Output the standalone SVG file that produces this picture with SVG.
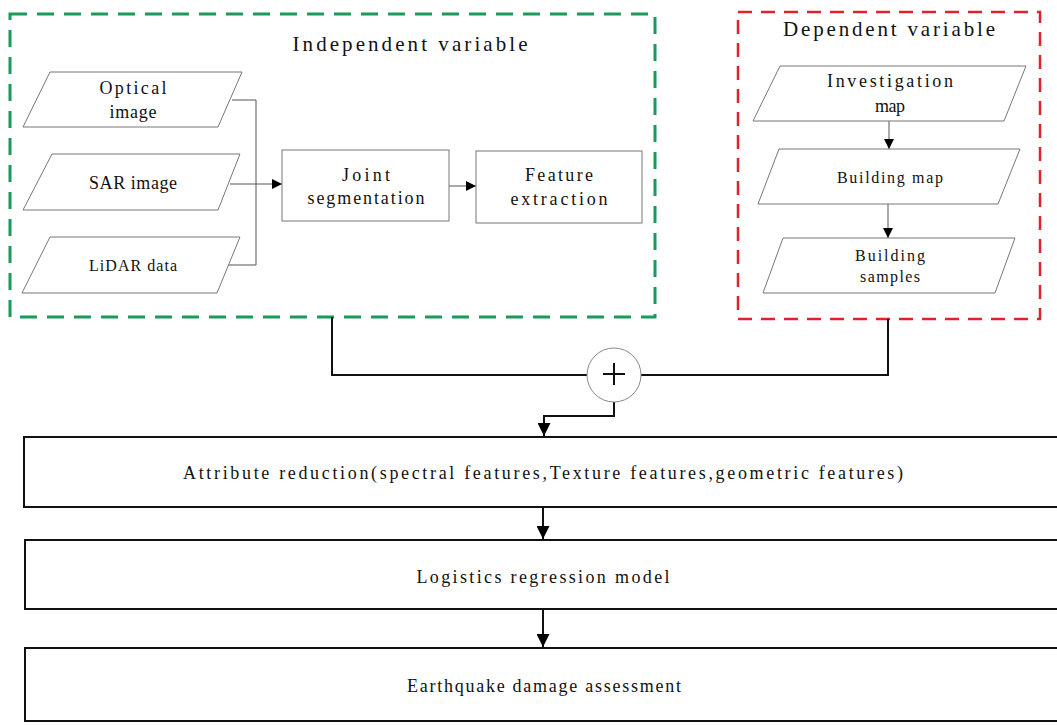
<svg xmlns="http://www.w3.org/2000/svg" width="1057" height="725" viewBox="0 0 1057 725">
<defs>
<style>
text{font-family:"Liberation Serif","DejaVu Serif",serif;fill:#111;text-anchor:middle}
.t{font-size:18px}
.h{font-size:21px}
.s{font-size:16px}
.para{fill:#fff;stroke:#777;stroke-width:1}
.box{fill:#fff;stroke:#777;stroke-width:1}
.big{fill:#fff;stroke:#111;stroke-width:2}
.thin{fill:none;stroke:#555;stroke-width:1}
.thick{fill:none;stroke:#111;stroke-width:2}
</style>
<marker id="ah" viewBox="0 0 10 10" refX="10" refY="5" markerWidth="10" markerHeight="10" markerUnits="userSpaceOnUse" orient="auto">
<path d="M0,0 L10,5 L0,10 Z" fill="#000"/>
</marker>
<marker id="ah2" viewBox="0 0 10 10" refX="10" refY="5" markerWidth="13" markerHeight="13" markerUnits="userSpaceOnUse" orient="auto">
<path d="M0,0 L10,5 L0,10 Z" fill="#000"/>
</marker>
</defs>
<rect width="1057" height="725" fill="#fff"/>

<g id="independent-group">
<rect x="10" y="14" width="645" height="303" fill="none" stroke="#1a9a5c" stroke-width="3" stroke-dasharray="17 10"/>
<text class="h" x="410" y="51" textLength="235" lengthAdjust="spacing">Independent variable</text>
</g>
<g id="dependent-group">
<rect x="738" y="12" width="302" height="307" fill="none" stroke="#e0232b" stroke-width="2.5" stroke-dasharray="14 9"/>
<text class="h" x="889" y="36" textLength="212" lengthAdjust="spacing">Dependent variable</text>
</g>

<g id="connectors">
<polyline class="thin" points="232,100 256,100 256,265 228,265"/>
<line class="thin" x1="230" y1="184" x2="282" y2="184" marker-end="url(#ah)"/>
<line class="thin" x1="449" y1="186" x2="476" y2="186" marker-end="url(#ah)"/>
<line class="thin" x1="889" y1="121" x2="889" y2="149" marker-end="url(#ah)"/>
<line class="thin" x1="888" y1="204" x2="888" y2="238" marker-end="url(#ah)"/>
<polyline class="thick" points="332,317 332,375 587,375"/>
<polyline class="thick" points="641,375 888,375 888,319"/>
<polyline class="thick" points="614,402 614,416 544,416 544,436" marker-end="url(#ah2)"/>
<line class="thick" x1="543" y1="507" x2="543" y2="539" marker-end="url(#ah2)"/>
<line class="thick" x1="543" y1="609" x2="543" y2="647" marker-end="url(#ah2)"/>
</g>

<g id="optical">
<polygon class="para" points="50,72 242,72 218,127 23,127"/>
<text class="t" x="133" y="94" textLength="67" lengthAdjust="spacing">Optical</text>
<text class="t" x="133" y="118" textLength="47" lengthAdjust="spacing">image</text>
</g>
<g id="sar">
<polygon class="para" points="52,154 240,154 218,210 23,210"/>
<text class="t" x="133" y="189" textLength="88" lengthAdjust="spacing">SAR image</text>
</g>
<g id="lidar">
<polygon class="para" points="50,237 240,237 217,293 22,293"/>
<text class="s" x="133" y="271" textLength="88" lengthAdjust="spacing">LiDAR data</text>
</g>
<g id="joint">
<rect class="box" x="282" y="150" width="167" height="71"/>
<text class="t" x="366" y="181" textLength="48" lengthAdjust="spacing">Joint</text>
<text class="t" x="366" y="204" textLength="117" lengthAdjust="spacing">segmentation</text>
</g>
<g id="feature">
<rect class="box" x="476" y="151" width="166" height="72"/>
<text class="t" x="559" y="181" textLength="68" lengthAdjust="spacing">Feature</text>
<text class="t" x="559" y="205" textLength="97" lengthAdjust="spacing">extraction</text>
</g>

<g id="investigation">
<polygon class="para" points="780,66 1026,66 1004,121 753,121"/>
<text class="t" x="890" y="87" textLength="126" lengthAdjust="spacing">Investigation</text>
<text class="t" x="890" y="112" textLength="30" lengthAdjust="spacing">map</text>
</g>
<g id="building-map">
<polygon class="para" points="779,149 1020,149 998,204 758,204"/>
<text class="s" x="890" y="183" textLength="106" lengthAdjust="spacing">Building map</text>
</g>
<g id="building-samples">
<polygon class="para" points="783,238 1015,238 995,293 763,293"/>
<text class="s" x="890" y="261" textLength="70" lengthAdjust="spacing">Building</text>
<text class="s" x="890" y="282" textLength="60" lengthAdjust="spacing">samples</text>
</g>

<g id="plus">
<circle cx="614" cy="375" r="27" fill="#fff" stroke="#888" stroke-width="1"/>
<path d="M603,374 H625 M614,363 V385" stroke="#111" stroke-width="2" fill="none"/>
</g>

<g id="attribute">
<rect class="big" x="24" y="437" width="1040" height="70"/>
<text class="t" x="543" y="479" textLength="720" lengthAdjust="spacing">Attribute reduction(spectral features,Texture features,geometric features)</text>
</g>
<g id="logistics">
<rect class="big" x="25" y="540" width="1040" height="69"/>
<text class="t" x="543" y="583" textLength="253" lengthAdjust="spacing">Logistics regression model</text>
</g>
<g id="earthquake">
<rect class="big" x="25" y="648" width="1040" height="73"/>
<text class="t" x="544" y="692" textLength="274" lengthAdjust="spacing">Earthquake damage assessment</text>
</g>
</svg>
